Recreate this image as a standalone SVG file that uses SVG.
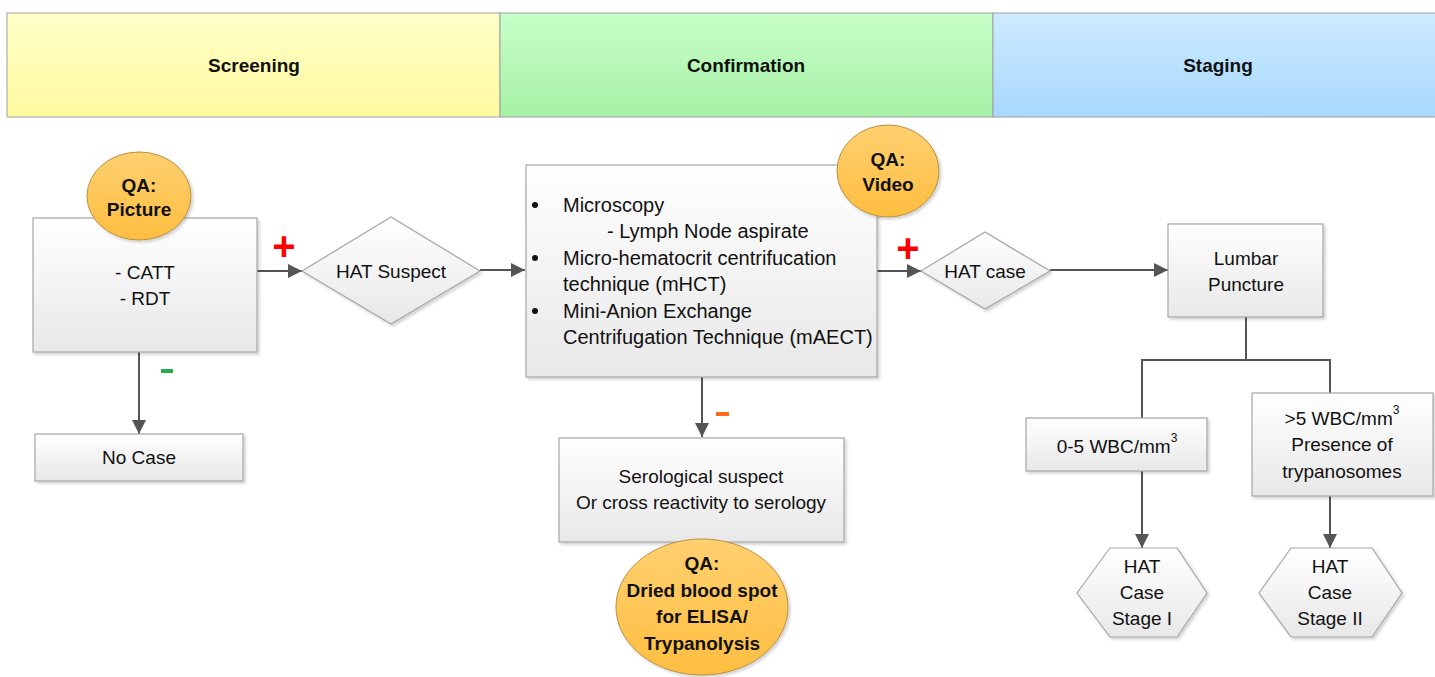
<svg xmlns="http://www.w3.org/2000/svg" width="1435" height="677" viewBox="0 0 1435 677">
<defs>
<linearGradient id="gBox" x1="0" y1="0" x2="0" y2="1"><stop offset="0" stop-color="#FFFFFF"/><stop offset="1" stop-color="#E8E8E8"/></linearGradient>
<linearGradient id="gY" x1="0" y1="0" x2="0" y2="1"><stop offset="0" stop-color="#FFFFC8"/><stop offset="1" stop-color="#FFFAA0"/></linearGradient>
<linearGradient id="gG" x1="0" y1="0" x2="0" y2="1"><stop offset="0" stop-color="#C8FFC8"/><stop offset="1" stop-color="#A6F0A6"/></linearGradient>
<linearGradient id="gB" x1="0" y1="0" x2="0" y2="1"><stop offset="0" stop-color="#CDEBFF"/><stop offset="1" stop-color="#A8D8FF"/></linearGradient>
<linearGradient id="gO" x1="0" y1="0" x2="0" y2="1"><stop offset="0" stop-color="#FFD070"/><stop offset="1" stop-color="#FFBE40"/></linearGradient>
<filter id="sh" x="-10%" y="-10%" width="130%" height="130%"><feDropShadow dx="2" dy="2" stdDeviation="1.5" flood-color="#000" flood-opacity="0.18"/></filter>
<marker id="arr" viewBox="0 0 10 10" refX="10" refY="5" markerWidth="14" markerHeight="14" markerUnits="userSpaceOnUse" orient="auto"><path d="M0,0 L10,5 L0,10 z" fill="#555"/></marker>
<style>
.box{fill:url(#gBox);stroke:#A6A6A6;stroke-width:1.2;filter:url(#sh)}
.qa{fill:url(#gO);stroke:#B89040;stroke-width:1;filter:url(#sh)}
.t{font-family:"Liberation Sans",Arial,sans-serif;font-size:19px;fill:#111;text-anchor:middle;dominant-baseline:central}
.tl{font-family:"Liberation Sans",Arial,sans-serif;font-size:20px;fill:#111;dominant-baseline:central}
.b{font-weight:bold}
.con{fill:none;stroke:#555;stroke-width:2}
.hdr{stroke:#A0A0A0;stroke-width:1}
</style>
</defs>
<g id="lanes">
<rect x="7" y="13" width="493" height="104" fill="url(#gY)" class="hdr"/>
<rect x="500" y="13" width="493" height="104" fill="url(#gG)" class="hdr"/>
<rect x="993" y="13" width="445" height="104" fill="url(#gB)" class="hdr"/>
<text class="t b" x="254" y="65">Screening</text>
<text class="t b" x="746" y="65">Confirmation</text>
<text class="t b" x="1218" y="65">Staging</text>
</g>
<g id="connectors">
<line class="con" x1="250" y1="271" x2="302" y2="271" marker-end="url(#arr)"/>
<line class="con" x1="139" y1="352" x2="139" y2="434" marker-end="url(#arr)"/>
<line class="con" x1="480" y1="270" x2="525" y2="270" marker-end="url(#arr)"/>
<line class="con" x1="877" y1="271" x2="921" y2="271" marker-end="url(#arr)"/>
<line class="con" x1="702" y1="377" x2="702" y2="437" marker-end="url(#arr)"/>
<line class="con" x1="1050" y1="270" x2="1168" y2="270" marker-end="url(#arr)"/>
<polyline class="con" points="1246,317 1246,360 1142,360 1142,418"/>
<polyline class="con" points="1246,360 1330,360 1330,393"/>
<line class="con" x1="1142" y1="471" x2="1142" y2="548" marker-end="url(#arr)"/>
<line class="con" x1="1330" y1="496" x2="1330" y2="548" marker-end="url(#arr)"/>
<text x="284" y="260" font-family="Liberation Sans,Arial,sans-serif" font-size="40" font-weight="bold" fill="#FF0000" text-anchor="middle">+</text>
<text x="908" y="262" font-family="Liberation Sans,Arial,sans-serif" font-size="40" font-weight="bold" fill="#FF0000" text-anchor="middle">+</text>
<rect x="161" y="369" width="12" height="4" fill="#22B04A"/>
<rect x="716" y="412" width="13" height="4" fill="#FF6A1A"/>
</g>
<g id="screening">
<rect class="box" x="33" y="218" width="224" height="134"/>
<text class="t" x="145" y="272">- CATT</text>
<text class="t" x="145" y="298">- RDT</text>
</g>
<g id="qa-picture">
<ellipse class="qa" cx="139" cy="196" rx="52" ry="44"/>
<text class="t b" x="139" y="185">QA:</text>
<text class="t b" x="139" y="209">Picture</text>
</g>
<g id="no-case">
<rect class="box" x="35" y="434" width="208" height="47"/>
<text class="t" x="139" y="457">No Case</text>
</g>
<g id="hat-suspect">
<polygon class="box" points="302,271 391,217 480,271 391,324"/>
<text class="t" x="391" y="271">HAT Suspect</text>
</g>
<g id="confirmation">
<rect class="box" x="526" y="165" width="351" height="212"/>
<circle cx="535" cy="205" r="3" fill="#111"/>
<circle cx="535" cy="258" r="3" fill="#111"/>
<circle cx="535" cy="311" r="3" fill="#111"/>
<text class="tl" x="563" y="205">Microscopy</text>
<text class="tl" x="607" y="231">- Lymph Node aspirate</text>
<text class="tl" x="563" y="258">Micro-hematocrit centrifucation</text>
<text class="tl" x="563" y="284">technique (mHCT)</text>
<text class="tl" x="563" y="311">Mini-Anion Exchange</text>
<text class="tl" x="563" y="337">Centrifugation Technique (mAECT)</text>
</g>
<g id="qa-video">
<ellipse class="qa" cx="888" cy="171" rx="51" ry="46"/>
<text class="t b" x="888" y="159">QA:</text>
<text class="t b" x="888" y="184">Video</text>
</g>
<g id="serological">
<rect class="box" x="559" y="438" width="285" height="104"/>
<text class="t" x="701" y="476">Serological suspect</text>
<text class="t" x="701" y="502">Or cross reactivity to serology</text>
</g>
<g id="qa-dbs">
<ellipse class="qa" cx="702" cy="607" rx="86" ry="68"/>
<text class="t b" x="702" y="563">QA:</text>
<text class="t b" x="702" y="590">Dried blood spot</text>
<text class="t b" x="702" y="616">for ELISA/</text>
<text class="t b" x="702" y="643">Trypanolysis</text>
</g>
<g id="hat-case">
<polygon class="box" points="921,271 985,232 1050,271 985,309"/>
<text class="t" x="985" y="271">HAT case</text>
</g>
<g id="lumbar">
<rect class="box" x="1168" y="224" width="155" height="93"/>
<text class="t" x="1246" y="258">Lumbar</text>
<text class="t" x="1246" y="284">Puncture</text>
</g>
<g id="wbc-low">
<rect class="box" x="1026" y="418" width="181" height="53"/>
<text class="t" x="1117" y="446">0-5 WBC/mm<tspan font-size="12" dy="-8">3</tspan></text>
</g>
<g id="wbc-high">
<rect class="box" x="1252" y="393" width="181" height="103"/>
<text class="t" x="1342" y="418">&gt;5 WBC/mm<tspan font-size="12" dy="-8">3</tspan></text>
<text class="t" x="1342" y="444">Presence of</text>
<text class="t" x="1342" y="471">trypanosomes</text>
</g>
<g id="stage1">
<polygon class="box" points="1077,593 1110,548 1177,548 1207,593 1177,637 1110,637"/>
<text class="t" x="1142" y="566">HAT</text>
<text class="t" x="1142" y="592">Case</text>
<text class="t" x="1142" y="618">Stage I</text>
</g>
<g id="stage2">
<polygon class="box" points="1259,593 1291,548 1372,548 1402,593 1372,637 1291,637"/>
<text class="t" x="1330" y="566">HAT</text>
<text class="t" x="1330" y="592">Case</text>
<text class="t" x="1330" y="618">Stage II</text>
</g>
</svg>
